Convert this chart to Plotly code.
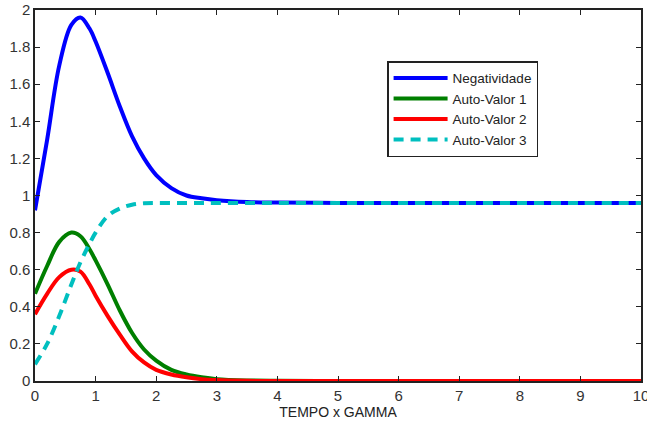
import plotly.graph_objects as go

t = [0, 0.2, 0.4, 0.6, 0.75, 0.9, 1.0, 1.2, 1.4, 1.6, 1.8, 2.0, 2.25, 2.5, 2.75, 3.0, 3.5, 4.0, 5.0, 6.0, 7.0, 8.0, 9.0, 10.0]
negatividade = [0.92, 1.30, 1.70, 1.92, 1.96, 1.90, 1.83, 1.66, 1.48, 1.32, 1.20, 1.11, 1.04, 1.00, 0.985, 0.975, 0.965, 0.962, 0.96, 0.96, 0.96, 0.96, 0.96, 0.96]
auto_valor_1 = [0.47, 0.62, 0.75, 0.80, 0.78, 0.71, 0.65, 0.52, 0.38, 0.26, 0.17, 0.11, 0.06, 0.035, 0.02, 0.01, 0.003, 0.001, 0, 0, 0, 0, 0, 0]
auto_valor_2 = [0.36, 0.47, 0.56, 0.60, 0.59, 0.52, 0.46, 0.35, 0.25, 0.16, 0.10, 0.06, 0.035, 0.02, 0.01, 0.005, 0.001, 0, 0, 0, 0, 0, 0, 0]
auto_valor_3 = [0.09, 0.20, 0.35, 0.52, 0.64, 0.74, 0.80, 0.89, 0.93, 0.95, 0.958, 0.96, 0.96, 0.96, 0.96, 0.96, 0.96, 0.96, 0.96, 0.96, 0.96, 0.96, 0.96, 0.96]

x_ticks = list(range(0, 11))
y_ticks = [0, 0.2, 0.4, 0.6, 0.8, 1, 1.2, 1.4, 1.6, 1.8, 2]

fig = go.Figure()
fig.add_trace(go.Scatter(x=t, y=negatividade, name="Negatividade", mode="lines",
                         line=dict(color="#0000ff", width=4, shape="spline")))
fig.add_trace(go.Scatter(x=t, y=auto_valor_1, name="Auto-Valor 1", mode="lines",
                         line=dict(color="#007f00", width=4, shape="spline")))
fig.add_trace(go.Scatter(x=t, y=auto_valor_2, name="Auto-Valor 2", mode="lines",
                         line=dict(color="#ff0000", width=4, shape="spline")))
fig.add_trace(go.Scatter(x=t, y=auto_valor_3, name="Auto-Valor 3", mode="lines",
                         line=dict(color="#00bfbf", width=4, dash="10px,7px", shape="spline")))

axis_common = dict(showgrid=False, zeroline=False, showline=True, linecolor="#222",
                   linewidth=1.5, mirror="allticks", ticks="inside", ticklen=5,
                   tickcolor="#222", automargin=False, ticklabeloverflow="allow",
                   tickfont=dict(size=15, color="#333"))

fig.update_layout(
    width=647, height=425,
    margin=dict(l=35, r=6, t=10, b=44),
    paper_bgcolor="white", plot_bgcolor="white",
    font=dict(family="Liberation Sans, Arial, sans-serif", size=14, color="#222"),
    xaxis=dict(range=[0, 10], tickvals=x_ticks,
               title=dict(text="TEMPO x GAMMA", font=dict(size=14), standoff=2), **axis_common),
    yaxis=dict(range=[0, 2], tickvals=y_ticks, **axis_common),
    legend=dict(x=0.581, y=0.862, xanchor="left", yanchor="top", bgcolor="white",
                bordercolor="#222", borderwidth=1.5, font=dict(size=13.5),
                tracegroupgap=0, itemwidth=54),
    showlegend=True,
)

fig.write_html("out.html")
